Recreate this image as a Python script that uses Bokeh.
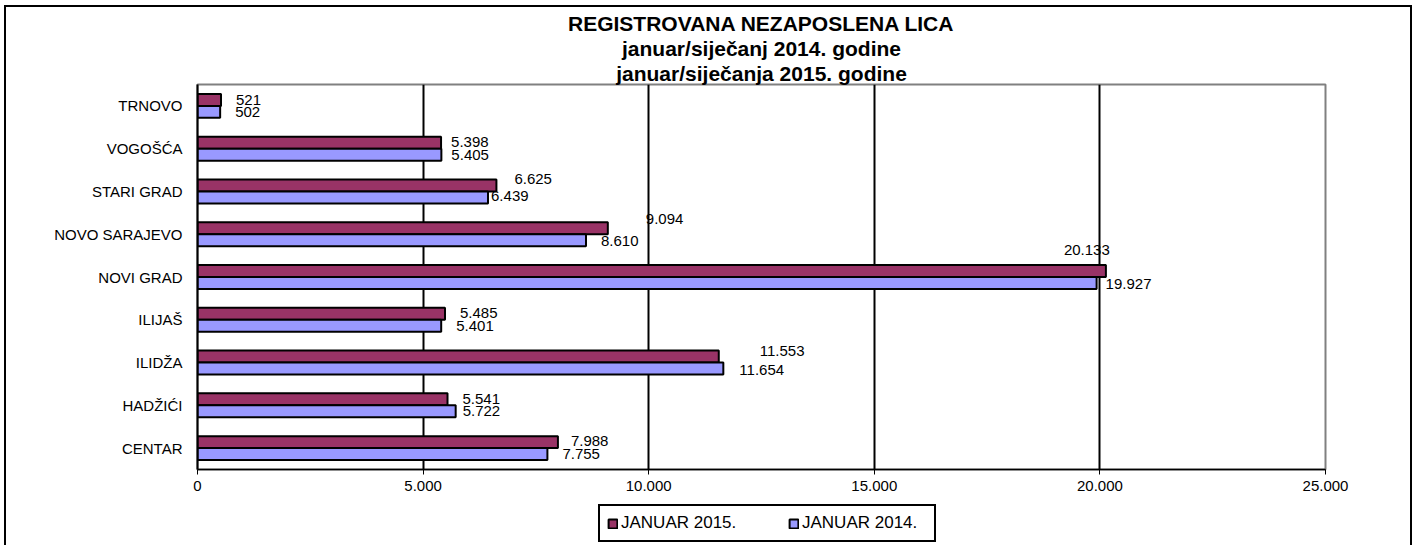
from bokeh.plotting import figure
from bokeh.layouts import column
from bokeh.models import (ColumnDataSource, FactorRange, FixedTicker, Title,
                          Legend, LegendItem, InlineStyleSheet)
from bokeh.transform import dodge
from bokeh.core.properties import value
from bokeh.embed import file_html
from bokeh.resources import INLINE

# ---------------- data (top to bottom as in the chart) ----------------
categories = ["TRNOVO", "VOGOŠĆA", "STARI GRAD", "NOVO SARAJEVO", "NOVI GRAD",
              "ILIJAŠ", "ILIDŽA", "HADŽIĆI", "CENTAR"]
jan_2015 = [521, 5398, 6625, 9094, 20133, 5485, 11553, 5541, 7988]
jan_2014 = [502, 5405, 6439, 8610, 19927, 5401, 11654, 5722, 7755]
series_names = ["JANUAR 2015.", "JANUAR 2014."]
tick_values = [0, 5000, 10000, 15000, 20000, 25000]
tick_labels = ["0", "5.000", "10.000", "15.000", "20.000", "25.000"]
title_lines = ["REGISTROVANA NEZAPOSLENA LICA",
               "januar/siječanj 2014. godine",
               "januar/siječanja 2015. godine"]

# label placement (screen px, relative to bar end / bar centre) - styling only
dx15 = [15, 10, 18, 38, -42, 15, 41, 15, 13]
dy15 = [0, -1, -6, -9, -21, -1, -6, 0, -1]
dx14 = [15, 10, 3, 15, 9, 15, 16, 7, 15]
dy14 = [0, 0, -1, 1, 1, 0, 1, 0, 0]

def fmt(v):
    return f"{v:,}".replace(",", ".")

FONT = "Liberation Sans"
MAROON = "#993366"
LAV = "#9999FF"

src = ColumnDataSource(dict(
    cat=categories, v15=jan_2015, v14=jan_2014,
    l15=[fmt(v) for v in jan_2015], l14=[fmt(v) for v in jan_2014],
    dx15=dx15, dy15=dy15, dx14=dx14, dy14=dy14,
))

yr = FactorRange(factors=list(reversed(categories)))
p = figure(width=1414, height=503, output_backend="svg", toolbar_location=None,
           y_range=yr, x_range=(0, 25000),
           min_border_left=197, min_border_right=89,
           min_border_top=84, min_border_bottom=34)
p.stylesheets = [InlineStyleSheet(css="""
:host { position: relative; }
:host::after { content: ""; position: absolute; left: 4px; top: 5px; right: 2px;
  bottom: 0px; border: 2px solid black; border-bottom: none;
  pointer-events: none; z-index: 100; }
""")]
p.title = None
p.background_fill_color = "white"
p.border_fill_color = "white"
p.outline_line_color = "#808080"
p.outline_line_width = 2

for t in reversed(title_lines):
    p.add_layout(Title(text=t, align="center", text_font=FONT,
                       text_font_size="21px", text_font_style="bold",
                       text_color="black", standoff=0), "above")

BH = 0.28
bar15 = dict(fill_color=MAROON, line_color="black", line_width=2)
bar14 = dict(fill_color=LAV, line_color="black", line_width=2)
p.hbar(y=dodge("cat", BH / 2, range=yr), right="v15", left=0,
       height=BH, source=src, **bar15)
p.hbar(y=dodge("cat", -BH / 2, range=yr), right="v14", left=0,
       height=BH, source=src, **bar14)

p.text(x="v15", y=dodge("cat", BH / 2, range=yr), text="l15",
       x_offset="dx15", y_offset="dy15", source=src,
       text_font=value(FONT), text_font_size="15px", text_color="black",
       text_align="left", text_baseline="middle")
p.text(x="v14", y=dodge("cat", -BH / 2, range=yr), text="l14",
       x_offset="dx14", y_offset="dy14", source=src,
       text_font=value(FONT), text_font_size="15px", text_color="black",
       text_align="left", text_baseline="middle")

# grid
p.ygrid.grid_line_color = None
p.xgrid.ticker = FixedTicker(ticks=tick_values[1:-1])
p.xgrid.grid_line_color = "black"
p.xgrid.grid_line_width = 2

# x axis
p.xaxis.ticker = FixedTicker(ticks=tick_values)
p.xaxis.major_label_overrides = {v: s for v, s in zip(tick_values, tick_labels)}
p.xaxis.minor_tick_line_color = None
p.xaxis.major_tick_in = 0
p.xaxis.major_tick_out = 5
p.xaxis.major_tick_line_color = "black"
p.xaxis.axis_line_color = "black"
p.xaxis.axis_line_width = 1.5
p.xaxis.major_label_standoff = 6
p.xaxis.major_label_text_font = FONT
p.xaxis.major_label_text_font_size = "15px"
p.xaxis.major_label_text_color = "black"

# y axis
p.yaxis.major_tick_line_color = None
p.yaxis.minor_tick_line_color = None
p.yaxis.axis_line_color = "black"
p.yaxis.axis_line_width = 2
p.yaxis.major_label_standoff = 9
p.yaxis.major_label_text_font = FONT
p.yaxis.major_label_text_font_size = "15px"
p.yaxis.major_label_text_color = "black"

# ---------------- legend strip (separate canvas below the chart) ----------------
pl = figure(width=1414, height=42, output_backend="svg", toolbar_location=None,
            x_range=p.x_range, y_range=yr,
            x_axis_location=None, y_axis_location=None, min_border=0)
pl.stylesheets = [InlineStyleSheet(css="""
:host { position: relative; }
:host::after { content: ""; position: absolute; left: 4px; top: 0px; right: 2px;
  bottom: 0px; border-left: 2px solid black; border-right: 2px solid black;
  pointer-events: none; z-index: 100; }
""")]
pl.title = None
pl.outline_line_color = None
pl.grid.grid_line_color = None
pl.background_fill_color = "white"
pl.border_fill_color = "white"
# same series, hidden here: they only feed the legend swatches
k15 = pl.hbar(y=dodge("cat", BH / 2, range=yr), right="v15", left=0,
              height=BH, source=src, visible=False, **bar15)
k14 = pl.hbar(y=dodge("cat", -BH / 2, range=yr), right="v14", left=0,
              height=BH, source=src, visible=False, **bar14)

legend = Legend(items=[LegendItem(label=series_names[0], renderers=[k15]),
                       LegendItem(label=series_names[1], renderers=[k14])],
                orientation="horizontal", location=(401, 3),
                border_line_color="black", border_line_width=2,
                border_line_alpha=1.0,
                background_fill_color="white", background_fill_alpha=1,
                inactive_fill_alpha=0.0,
                label_text_font=FONT, label_text_font_size="17px",
                label_text_color="black", label_width=125,
                glyph_width=11, glyph_height=11, label_standoff=3,
                spacing=42, padding=7, margin=0)
pl.add_layout(legend, "center")

layout = column(p, pl, spacing=0)
open("out.html", "w").write(file_html(layout, INLINE))
